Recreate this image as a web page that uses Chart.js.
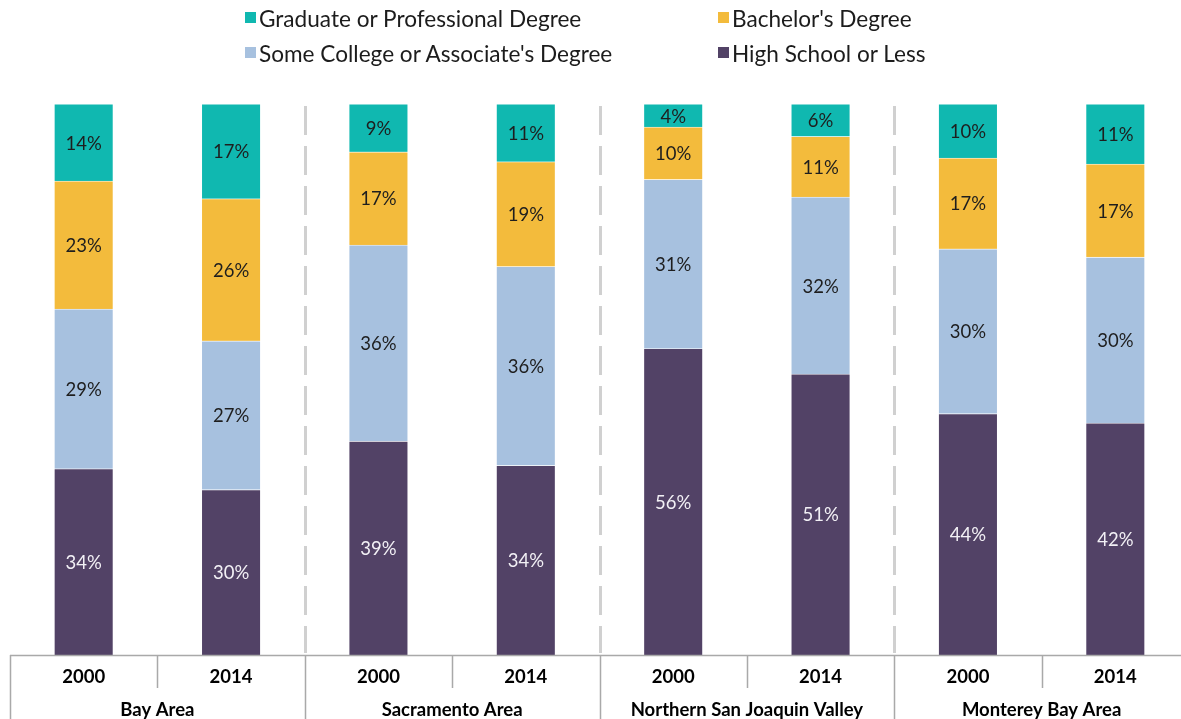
<!DOCTYPE html>
<html>
<head>
<meta charset="utf-8">
<script src="https://cdn.jsdelivr.net/npm/chart.js@4"></script>
<style>
  html, body { margin: 0; padding: 0; background: #fff; overflow: hidden; }
  #wrap { position: relative; width: 1190px; height: 730px; }
  #legend {
    position: absolute; left: 245px; top: 1px;
    display: grid; grid-template-columns: 473px auto; grid-auto-rows: 35px;
    font-family: Lato, "Open Sans", sans-serif; font-size: 22.6px; color: #1c1c1c;
  }
  .legend-item { display: flex; align-items: center; white-space: nowrap; }
  .legend-box { width: 11px; height: 11px; margin-right: 3px; margin-top: -3px; }
</style>
</head>
<body>
<div id="wrap">
  <div id="legend"></div>
  <canvas id="chart" width="1190" height="730"></canvas>
</div>
<script>
const years = ["2000", "2014", "2000", "2014", "2000", "2014", "2000", "2014"];
const regions = ["Bay Area", "Sacramento Area", "Northern San Joaquin Valley", "Monterey Bay Area"];

const highSchool = [33.8, 30.0, 38.8, 34.4, 55.6, 51.0, 43.8, 42.1];
const someCollege = [29.0, 27.0, 35.6, 36.1, 30.7, 32.1, 29.9, 30.1];
const bachelors = [23.2, 25.8, 16.9, 19.0, 9.5, 11.0, 16.5, 16.9];
const graduate = [14.0, 17.2, 8.7, 10.5, 4.2, 5.9, 9.8, 10.9];

const seriesNames = ["High School or Less", "Some College or Associate's Degree", "Bachelor's Degree", "Graduate or Professional Degree"];
const seriesColors = ["#524266", "#a7c1df", "#f3bb3c", "#10b8b0"];
const labelColors = ["#f2f0f5", "#1e1e1e", "#1e1e1e", "#1e1e1e"];
const legendOrder = [3, 2, 1, 0];

const FONT = "Lato, 'Open Sans', sans-serif";

function buildLegend() {
  const node = document.getElementById("legend");
  node.innerHTML = legendOrder.map((i) => `
    <div class="legend-item">
      <span class="legend-box" style="background:${seriesColors[i]}"></span>${seriesNames[i]}
    </div>`).join("");
}

const valueLabels = {
  id: "valueLabels",
  afterDatasetsDraw(chart) {
    const ctx = chart.ctx;
    ctx.save();
    ctx.font = `18.5px ${FONT}`;
    ctx.textAlign = "center";
    ctx.textBaseline = "middle";
    chart.data.datasets.forEach((ds, di) => {
      const meta = chart.getDatasetMeta(di);
      ctx.fillStyle = labelColors[di];
      meta.data.forEach((bar, i) => {
        const p = bar.getCenterPoint();
        ctx.fillText(Math.round(ds.data[i]) + "%", p.x, p.y + 1);
      });
    });
    ctx.restore();
  },
};

const tableLines = {
  id: "tableLines",
  afterDraw(chart) {
    const ctx = chart.ctx;
    const x = chart.scales.x;
    const area = chart.chartArea;
    const bottom = chart.height;
    const step = x.getPixelForValue(1) - x.getPixelForValue(0);
    ctx.save();

    // dashed separators between regions
    ctx.strokeStyle = "#d0d0d0";
    ctx.lineWidth = 3;
    ctx.setLineDash([29, 11]);
    for (let g = 1; g < regions.length; g++) {
      const px = Math.round(x.getPixelForValue(g * 2) - step / 2) + 0.5;
      ctx.beginPath();
      ctx.moveTo(px, area.top + 2);
      ctx.lineTo(px, area.bottom - 2);
      ctx.stroke();
    }

    // table under the bars
    ctx.setLineDash([]);
    ctx.strokeStyle = "#a9a9a9";
    ctx.lineWidth = 1.5;
    ctx.beginPath();
    ctx.moveTo(area.left, area.bottom + 0.5);
    ctx.lineTo(chart.width, area.bottom + 0.5);
    for (let i = 0; i <= years.length; i++) {
      const px = Math.round(x.getPixelForValue(i) - step / 2) + 0.5;
      ctx.moveTo(px, area.bottom);
      ctx.lineTo(px, i % 2 === 0 ? bottom : area.bottom + 33);
    }
    ctx.stroke();

    ctx.fillStyle = "#000";
    ctx.font = `bold 18.5px ${FONT}`;
    ctx.textAlign = "center";
    ctx.textBaseline = "middle";
    regions.forEach((name, g) => {
      const cx = (x.getPixelForValue(g * 2) + x.getPixelForValue(g * 2 + 1)) / 2;
      ctx.fillText(name, cx, area.bottom + 55);
    });
    ctx.restore();
  },
};

buildLegend();

new Chart(document.getElementById("chart"), {
  type: "bar",
  data: {
    labels: years,
    datasets: [highSchool, someCollege, bachelors, graduate].map((values, i) => ({
      label: seriesNames[i],
      data: values,
      backgroundColor: seriesColors[i],
      borderColor: "rgba(255,255,255,0.7)",
      borderWidth: 0.8,
      barThickness: 59,
    })),
  },
  options: {
    responsive: false,
    animation: false,
    layout: { padding: { top: 104, left: 10, right: 1, bottom: 0 } },
    plugins: {
      legend: { display: false },
      tooltip: { enabled: false },
    },
    scales: {
      x: {
        stacked: true,
        grid: { display: false },
        border: { display: false },
        ticks: {
          color: "#000",
          padding: 3,
          font: { family: FONT, size: 18.5, weight: "bold" },
          maxRotation: 0,
        },
        afterFit(axis) { axis.height = 75; },
      },
      y: {
        stacked: true,
        display: false,
        min: 0,
        max: 100,
      },
    },
  },
  plugins: [valueLabels, tableLines],
});
</script>
</body>
</html>
